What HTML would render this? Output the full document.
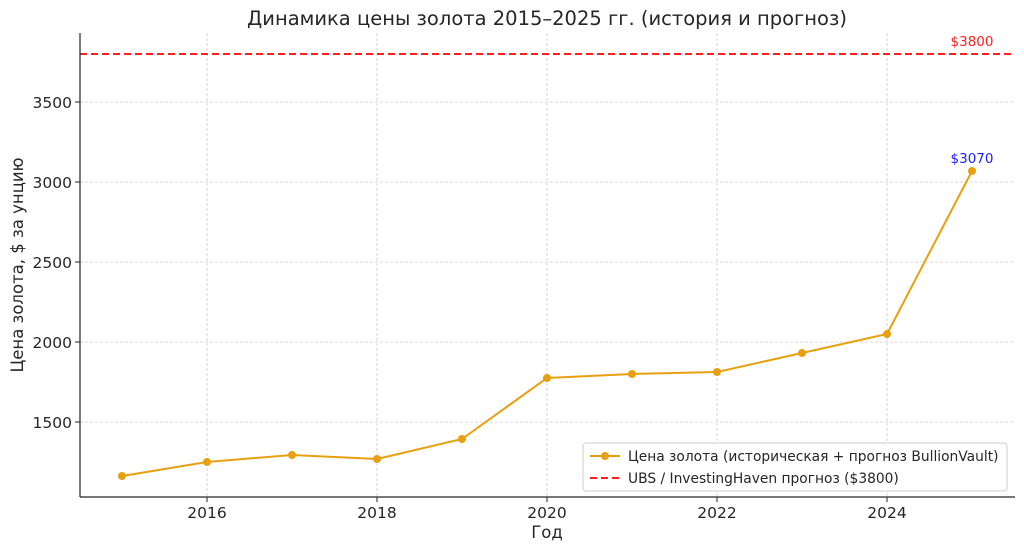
<!DOCTYPE html>
<html><head><meta charset="utf-8"><style>
body{margin:0;background:#fff;}
text{font-family:"DejaVu Sans",sans-serif;}
</style></head><body>
<svg width="1024" height="551" viewBox="0 0 1024 551" xmlns="http://www.w3.org/2000/svg">
<rect width="1024" height="551" fill="#fff"/>
<text x="547" y="25" font-size="19.5" text-anchor="middle" fill="#262626">Динамика цены золота 2015–2025 гг. (история и прогноз)</text>
<g stroke="#cccccc" stroke-width="0.8" stroke-dasharray="3,2">
<line x1="207" y1="33" x2="207" y2="497"/><line x1="377" y1="33" x2="377" y2="497"/>
<line x1="547" y1="33" x2="547" y2="497"/><line x1="717" y1="33" x2="717" y2="497"/>
<line x1="887" y1="33" x2="887" y2="497"/>
<line x1="80" y1="102" x2="1015" y2="102"/><line x1="80" y1="182" x2="1015" y2="182"/>
<line x1="80" y1="262" x2="1015" y2="262"/><line x1="80" y1="342" x2="1015" y2="342"/>
<line x1="80" y1="422" x2="1015" y2="422"/>
</g>
<line x1="80" y1="54" x2="1015" y2="54" stroke="#ff2020" stroke-width="2" stroke-dasharray="7,4"/>
<polyline fill="none" stroke="#e8a010" stroke-width="2" points="122,476 207,462 292,455 377,459 462,439 547,378 632,374 717,372 802,353 887,334 972,171"/>
<g fill="#e8a010">
<circle cx="122" cy="476" r="4"/><circle cx="207" cy="462" r="4"/><circle cx="292" cy="455" r="4"/><circle cx="377" cy="459" r="4"/><circle cx="462" cy="439" r="4"/><circle cx="547" cy="378" r="4"/><circle cx="632" cy="374" r="4"/><circle cx="717" cy="372" r="4"/><circle cx="802" cy="353" r="4"/><circle cx="887" cy="334" r="4"/><circle cx="972" cy="171" r="4"/>
</g>
<text x="972" y="46" font-size="13.5" fill="#ff2020" text-anchor="middle">$3800</text>
<text x="972" y="163" font-size="13.5" fill="#2020ff" text-anchor="middle">$3070</text>
<line x1="80" y1="33" x2="80" y2="497" stroke="#262626" stroke-width="1.2"/>
<line x1="80" y1="497" x2="1015" y2="497" stroke="#262626" stroke-width="1.2"/>
<g stroke="#262626"><line x1="75" y1="102" x2="80" y2="102"/><line x1="75" y1="182" x2="80" y2="182"/><line x1="75" y1="262" x2="80" y2="262"/><line x1="75" y1="342" x2="80" y2="342"/><line x1="75" y1="422" x2="80" y2="422"/>
<line x1="207" y1="497" x2="207" y2="502"/><line x1="377" y1="497" x2="377" y2="502"/><line x1="547" y1="497" x2="547" y2="502"/><line x1="717" y1="497" x2="717" y2="502"/><line x1="887" y1="497" x2="887" y2="502"/></g>
<g font-size="15.5" fill="#262626" text-anchor="end">
<text x="72" y="108">3500</text><text x="72" y="188">3000</text><text x="72" y="268">2500</text><text x="72" y="348">2000</text><text x="72" y="428">1500</text></g>
<g font-size="15.5" fill="#262626" text-anchor="middle">
<text x="207" y="518">2016</text><text x="377" y="518">2018</text><text x="547" y="518">2020</text><text x="717" y="518">2022</text><text x="887" y="518">2024</text></g>
<text x="547" y="538" font-size="16.5" fill="#262626" text-anchor="middle">Год</text>
<text transform="translate(23,265) rotate(-90)" font-size="16.5" fill="#262626" text-anchor="middle">Цена золота, $ за унцию</text>
<rect x="583" y="443" width="424" height="48" rx="3" fill="#fff" stroke="#cccccc"/>
<line x1="590" y1="456" x2="620" y2="456" stroke="#e8a010" stroke-width="2"/><circle cx="605" cy="456" r="4" fill="#e8a010"/>
<text x="628" y="461" font-size="13.8" fill="#262626">Цена золота (историческая + прогноз BullionVault)</text>
<line x1="590" y1="478" x2="620" y2="478" stroke="#ff2020" stroke-width="2" stroke-dasharray="7,4"/>
<text x="628" y="483" font-size="13.8" fill="#262626">UBS / InvestingHaven прогноз ($3800)</text>
</svg>
</body></html>
